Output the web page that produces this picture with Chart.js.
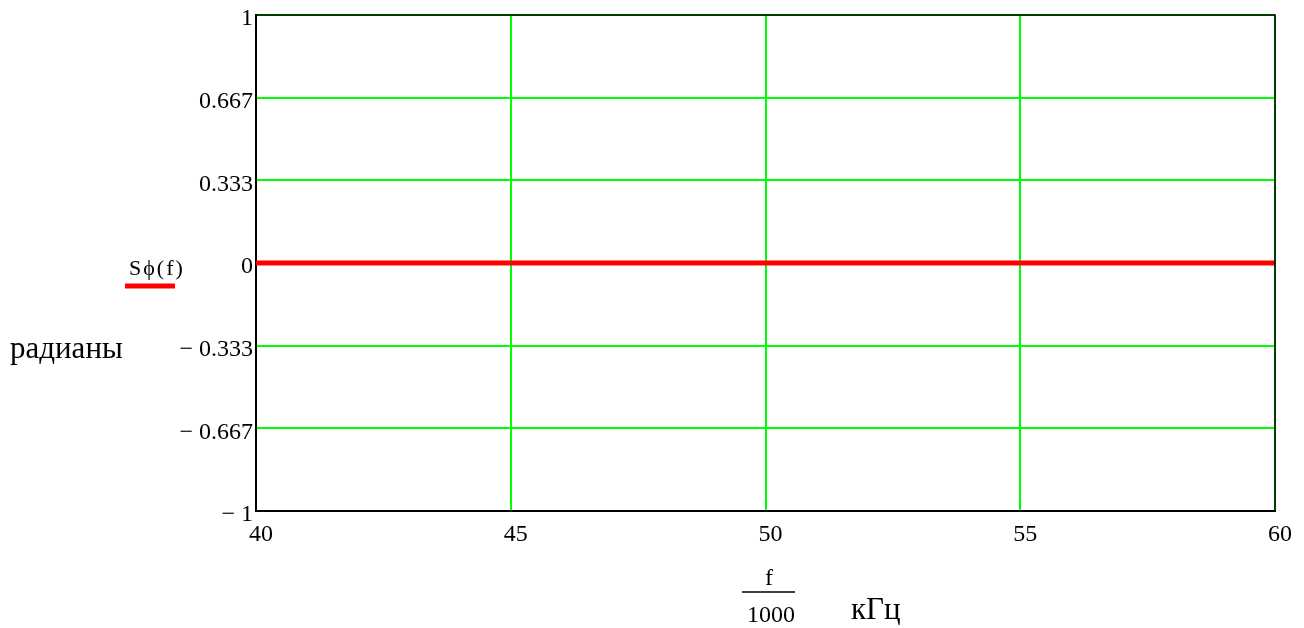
<!DOCTYPE html>
<html>
<head>
<meta charset="utf-8">
<script src="https://cdn.jsdelivr.net/npm/chart.js@4.4.0/dist/chart.umd.min.js"></script>
<style>
  html, body { margin: 0; padding: 0; background: #fff; }
  canvas { display: block; }
</style>
</head>
<body>
<canvas id="phaseChart" width="1304" height="628"></canvas>
<script>
// frequency in kHz and phase spectrum values (radians)
const freqKHz = [40, 45, 50, 55, 60];
const phaseRad = [0, 0, 0, 0, 0];

// axis ticks
const xTicks = [40, 45, 50, 55, 60];
const yTicks = [-1, -2 / 3, -1 / 3, 0, 1 / 3, 2 / 3, 1];
const yTickLabels = ["\u2212 1", "\u2212 0.667", "\u2212 0.333", "0", "0.333", "0.667", "1"];

const serif = "'Liberation Serif', 'Times New Roman', serif";

/****************Frame + captions****************/
const frameAndCaptions = {
  id: "frameAndCaptions",
  afterDraw(chart) {
    const { ctx, chartArea } = chart;
    ctx.save();

    // top and right frame
    ctx.strokeStyle = "#000";
    ctx.lineWidth = 1.5;
    ctx.beginPath();
    ctx.moveTo(chartArea.left, chartArea.top);
    ctx.lineTo(chartArea.right, chartArea.top);
    ctx.lineTo(chartArea.right, chartArea.bottom);
    ctx.stroke();

    ctx.fillStyle = "#000";
    ctx.textBaseline = "alphabetic";

    // trace name with its red sample line
    ctx.letterSpacing = "2px";
    ctx.font = "22px " + serif;
    ctx.textAlign = "left";
    ctx.fillText("S\u03d5(f)", 129, 275);
    ctx.letterSpacing = "0px";
    ctx.strokeStyle = "#ff0000";
    ctx.lineWidth = 5;
    ctx.beginPath();
    ctx.moveTo(125, 286);
    ctx.lineTo(175, 286);
    ctx.stroke();

    // y units
    ctx.font = "31px " + serif;
    ctx.fillText("радианы", 10, 358);

    // x expression f/1000 and units
    ctx.font = "24px " + serif;
    ctx.textAlign = "center";
    ctx.fillText("f", 769, 585);
    ctx.fillText("1000", 771, 622);
    ctx.strokeStyle = "#000";
    ctx.lineWidth = 1.5;
    ctx.beginPath();
    ctx.moveTo(742, 592);
    ctx.lineTo(795, 592);
    ctx.stroke();

    ctx.font = "31px " + serif;
    ctx.textAlign = "left";
    ctx.fillText("кГц", 851, 619);

    ctx.restore();
  },
};

new Chart(document.getElementById("phaseChart"), {
  type: "line",
  data: {
    labels: freqKHz,
    datasets: [
      {
        label: "S\u03d5(f)",
        data: freqKHz.map((f, i) => ({ x: f, y: phaseRad[i] })),
        borderColor: "#ff0000",
        borderWidth: 5,
        pointRadius: 0,
        tension: 0,
      },
    ],
  },
  plugins: [frameAndCaptions],
  options: {
    responsive: false,
    devicePixelRatio: 1,
    animation: false,
    layout: {
      padding: { top: 15, right: 29, left: 0, bottom: 0 },
    },
    plugins: {
      legend: { display: false },
      tooltip: { enabled: false },
    },
    scales: {
      x: {
        type: "linear",
        min: 40,
        max: 60,
        afterBuildTicks: (axis) => {
          axis.ticks = xTicks.map((v) => ({ value: v }));
        },
        afterFit: (axis) => {
          axis.height = 117;
        },
        grid: {
          color: "#00ff00",
          lineWidth: 2,
          drawTicks: false,
        },
        border: { color: "#000", width: 2 },
        ticks: {
          color: "#000",
          font: { family: serif, size: 24 },
          padding: 9,
          labelOffset: 5,
          maxRotation: 0,
        },
      },
      y: {
        type: "linear",
        min: -1,
        max: 1,
        afterBuildTicks: (axis) => {
          axis.ticks = yTicks.map((v) => ({ value: v }));
        },
        afterFit: (axis) => {
          axis.width = 256;
        },
        grid: {
          color: "#00ff00",
          lineWidth: 2,
          drawTicks: false,
        },
        border: { color: "#000", width: 2 },
        ticks: {
          color: "#000",
          font: { family: serif, size: 24, lineHeight: 1 },
          padding: 3,
          labelOffset: 4,
          callback: (value, index) => yTickLabels[index],
        },
      },
    },
  },
});
</script>
</body>
</html>
